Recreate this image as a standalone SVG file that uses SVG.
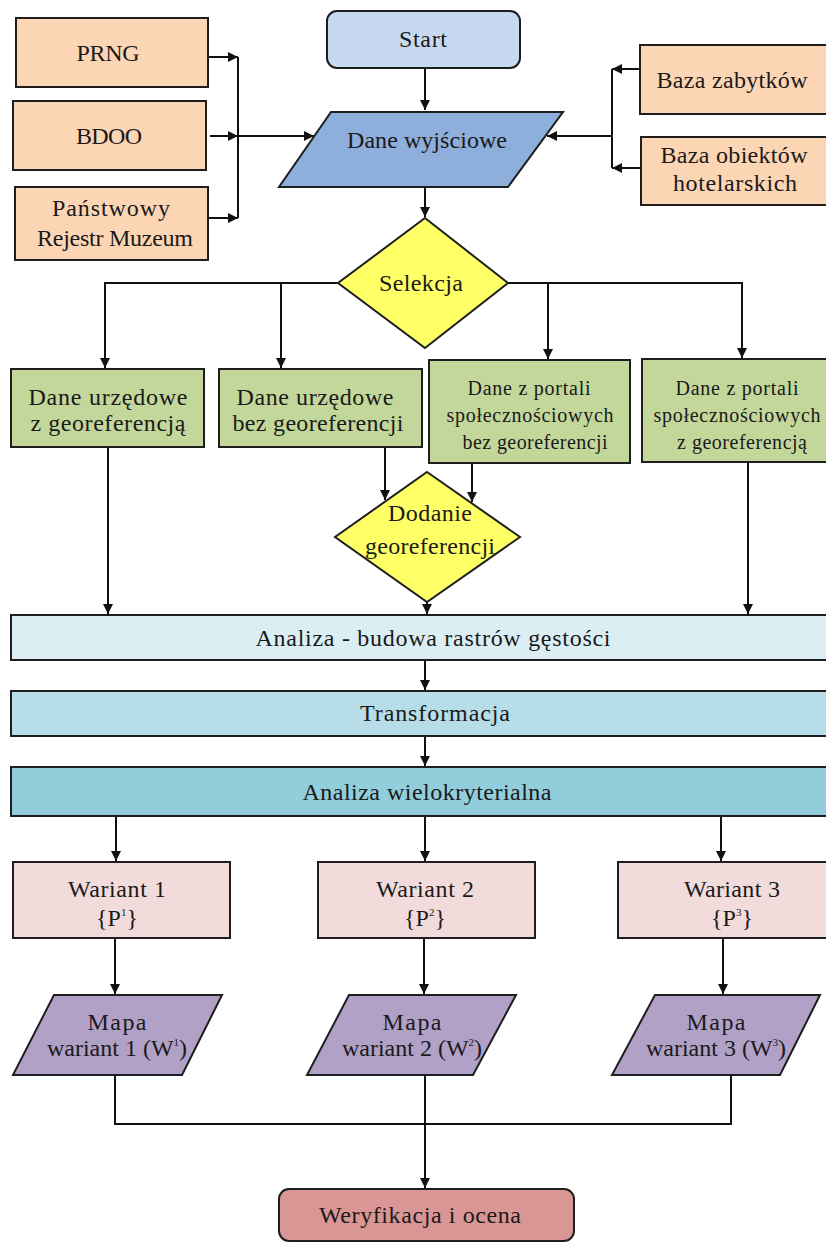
<svg xmlns="http://www.w3.org/2000/svg" width="826" height="1243" viewBox="0 0 826 1243">
<defs>
<marker id="ah" viewBox="0 0 10 10" refX="10" refY="5" markerWidth="10" markerHeight="10" markerUnits="userSpaceOnUse" orient="auto">
<path d="M0,0 L10,5 L0,10 z" fill="#111"/>
</marker>
<style>
.n{stroke:#1e1e1e;stroke-width:2}
.t{font-family:"Liberation Serif","Times New Roman",serif;font-size:24px;fill:#1a1a1a;text-anchor:middle}
.s{font-size:20px}
.c{fill:none;stroke:#111;stroke-width:2}
.a{fill:none;stroke:#111;stroke-width:2;marker-end:url(#ah)}
</style>
</defs>
<rect width="826" height="1243" fill="#fff"/>

<g id="connectors">
<path class="a" d="M425,68 V110"/>
<path class="a" d="M208,57 H238"/>
<path class="a" d="M210,136 H238"/>
<path class="a" d="M208,218 H238"/>
<path class="c" d="M238,57 V218"/>
<path class="a" d="M238,136 H314"/>
<path class="a" d="M640,69 H612"/>
<path class="a" d="M640,168 H612"/>
<path class="c" d="M612,69 V168"/>
<path class="a" d="M612,136 H547"/>
<path class="a" d="M425,187 V217"/>
<path class="a" d="M338,283 H105 V368"/>
<path class="a" d="M281,283 V368"/>
<path class="a" d="M508,283 H742 V358"/>
<path class="a" d="M548,283 V359"/>
<path class="a" d="M108,447 V614"/>
<path class="a" d="M385,447 V500"/>
<path class="a" d="M472,463 V502"/>
<path class="a" d="M748,462 V614"/>
<path class="a" d="M427,602 V614"/>
<path class="a" d="M425,660 V690"/>
<path class="a" d="M425,736 V766"/>
<path class="a" d="M116,816 V861"/>
<path class="a" d="M425,816 V861"/>
<path class="a" d="M721,816 V861"/>
<path class="a" d="M115,938 V994"/>
<path class="a" d="M424,938 V994"/>
<path class="a" d="M723,938 V994"/>
<path class="c" d="M115,1075 V1124 H731 V1075"/>
<path class="a" d="M425,1075 V1188"/>
</g>

<g id="start">
<rect class="n" x="327" y="11" width="193" height="57" rx="10" fill="#c6d9f0"/>
<text class="t" x="423" y="47" textLength="48">Start</text>
</g>

<g id="prng">
<rect class="n" x="16" y="18" width="192" height="69" fill="#fcd5b4"/>
<text class="t" x="108" y="61" textLength="63">PRNG</text>
</g>
<g id="bdoo">
<rect class="n" x="13" y="101" width="193" height="69" fill="#fcd5b4"/>
<text class="t" x="109" y="144" textLength="66">BDOO</text>
</g>
<g id="prm">
<rect class="n" x="15" y="187" width="193" height="73" fill="#fcd5b4"/>
<text class="t" x="111" y="216" textLength="118">Państwowy</text>
<text class="t" x="115" y="246" textLength="156">Rejestr Muzeum</text>
</g>

<g id="baza-zabytkow">
<rect class="n" x="640" y="45" width="190" height="69" fill="#fcd5b4"/>
<text class="t" x="732" y="88" textLength="151">Baza zabytków</text>
</g>
<g id="baza-hotel">
<rect class="n" x="641" y="137" width="189" height="68" fill="#fcd5b4"/>
<text class="t" x="734" y="163" textLength="147">Baza obiektów</text>
<text class="t" x="735" y="191" textLength="124">hotelarskich</text>
</g>

<g id="dane-wyjsciowe">
<polygon class="n" points="331,112 563,112 508,187 279,187" fill="#8eaedb"/>
<text class="t" x="427" y="148" textLength="160">Dane wyjściowe</text>
</g>

<g id="selekcja">
<polygon class="n" points="425,218 508,283 425,348 338,283" fill="#ffff66"/>
<text class="t" x="421" y="291" textLength="84">Selekcja</text>
</g>

<g id="urz-z">
<rect class="n" x="11" y="369" width="193" height="78" fill="#c4d79b"/>
<text class="t" x="108" y="405" textLength="159">Dane urzędowe</text>
<text class="t" x="108" y="431" textLength="155">z georeferencją</text>
</g>
<g id="urz-bez">
<rect class="n" x="219" y="369" width="203" height="78" fill="#c4d79b"/>
<text class="t" x="315" y="405" textLength="157">Dane urzędowe</text>
<text class="t" x="318" y="431" textLength="171">bez georeferencji</text>
</g>
<g id="portal-bez">
<rect class="n" x="429" y="360" width="201" height="103" fill="#c4d79b"/>
<text class="t s" x="529" y="395" textLength="123">Dane z portali</text>
<text class="t s" x="530" y="422" textLength="167">społecznościowych</text>
<text class="t s" x="535" y="449" textLength="145">bez georeferencji</text>
</g>
<g id="portal-z">
<rect class="n" x="642" y="359" width="188" height="103" fill="#c4d79b"/>
<text class="t s" x="737" y="395" textLength="123">Dane z portali</text>
<text class="t s" x="737" y="422" textLength="167">społecznościowych</text>
<text class="t s" x="742" y="449" textLength="130">z georeferencją</text>
</g>

<g id="dodanie">
<polygon class="n" points="427,472 520,537 427,602 335,537" fill="#ffff66"/>
<text class="t" x="430" y="521" textLength="84">Dodanie</text>
<text class="t" x="430" y="554" textLength="130">georeferencji</text>
</g>

<g id="analiza-rastrow">
<rect class="n" x="11" y="615" width="820" height="45" fill="#dbeef3"/>
<text class="t" x="433" y="646" textLength="355">Analiza - budowa rastrów gęstości</text>
</g>
<g id="transformacja">
<rect class="n" x="11" y="691" width="820" height="45" fill="#b6dde8"/>
<text class="t" x="435" y="721" textLength="150">Transformacja</text>
</g>
<g id="analiza-wielo">
<rect class="n" x="11" y="767" width="820" height="49" fill="#92cddc"/>
<text class="t" x="427" y="800" textLength="249">Analiza wielokryterialna</text>
</g>

<g id="wariant1">
<rect class="n" x="13" y="862" width="217" height="76" fill="#f2dcdb"/>
<text class="t" x="117" y="897" textLength="98">Wariant 1</text>
<text class="t" x="117" y="926">{P<tspan font-size="11" dy="-10">1</tspan><tspan dy="10">}</tspan></text>
</g>
<g id="wariant2">
<rect class="n" x="318" y="862" width="217" height="76" fill="#f2dcdb"/>
<text class="t" x="425" y="897" textLength="98">Wariant 2</text>
<text class="t" x="425" y="926">{P<tspan font-size="11" dy="-10">2</tspan><tspan dy="10">}</tspan></text>
</g>
<g id="wariant3">
<rect class="n" x="618" y="862" width="212" height="76" fill="#f2dcdb"/>
<text class="t" x="732" y="897" textLength="96">Wariant 3</text>
<text class="t" x="732" y="926">{P<tspan font-size="11" dy="-10">3</tspan><tspan dy="10">}</tspan></text>
</g>

<g id="mapa1">
<polygon class="n" points="54,995 222,995 182,1075 13,1075" fill="#b2a1c7"/>
<text class="t" x="117" y="1030" textLength="59">Mapa</text>
<text class="t" x="117" y="1056">wariant 1 (W<tspan font-size="11" dy="-10">1</tspan><tspan dy="10">)</tspan></text>
</g>
<g id="mapa2">
<polygon class="n" points="349,995 516,995 473,1075 307,1075" fill="#b2a1c7"/>
<text class="t" x="412" y="1030" textLength="59">Mapa</text>
<text class="t" x="412" y="1056">wariant 2 (W<tspan font-size="11" dy="-10">2</tspan><tspan dy="10">)</tspan></text>
</g>
<g id="mapa3">
<polygon class="n" points="655,995 820,995 780,1075 612,1075" fill="#b2a1c7"/>
<text class="t" x="716" y="1030" textLength="59">Mapa</text>
<text class="t" x="716" y="1056">wariant 3 (W<tspan font-size="11" dy="-10">3</tspan><tspan dy="10">)</tspan></text>
</g>

<g id="weryfikacja">
<rect class="n" x="279" y="1189" width="295" height="52" rx="10" fill="#d99694"/>
<text class="t" x="420" y="1223" textLength="202">Weryfikacja i ocena</text>
</g>
</svg>
